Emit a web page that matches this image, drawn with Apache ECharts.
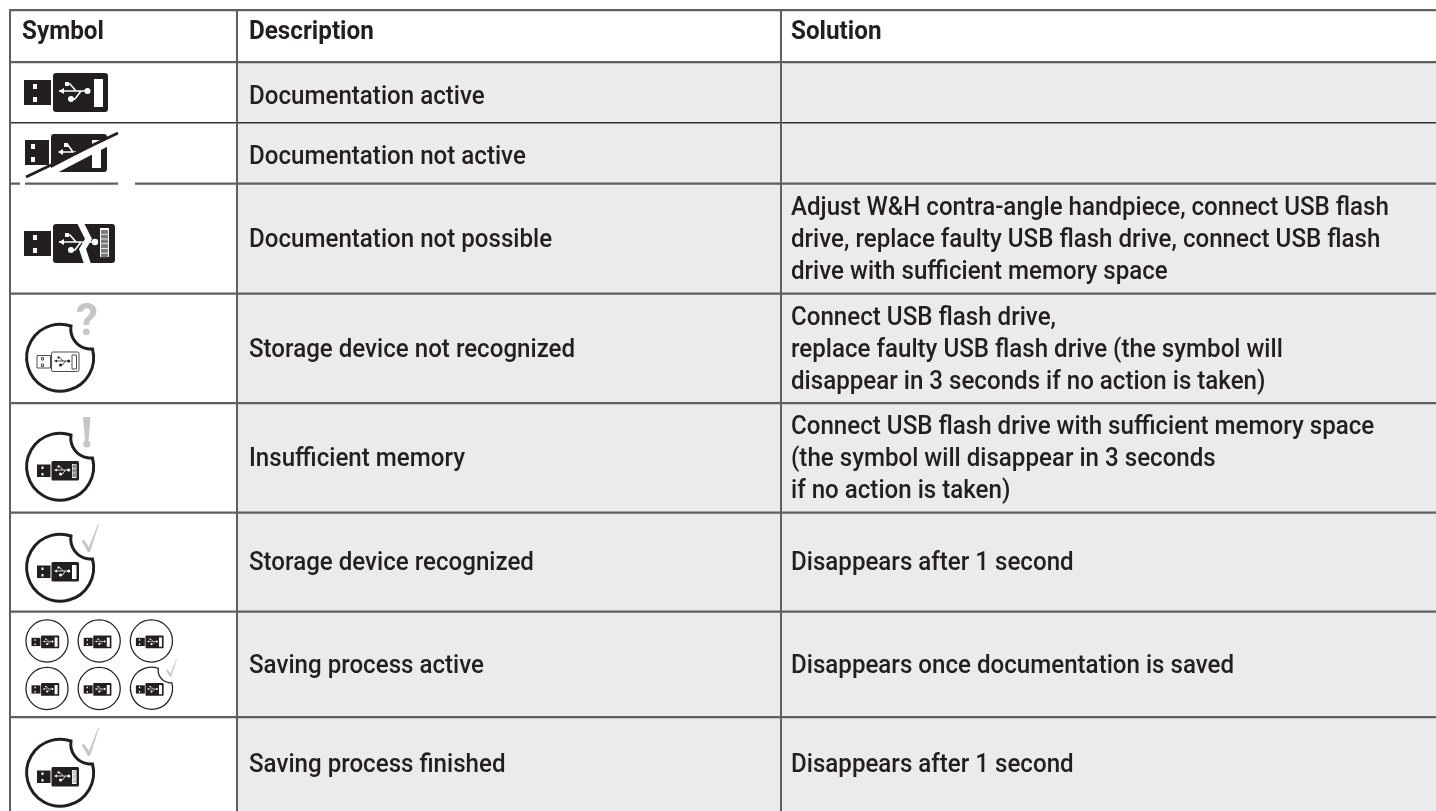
<!DOCTYPE html>
<html>
<head>
<meta charset="utf-8">
<title>Symbol table</title>
<style>
  html, body { margin: 0; padding: 0; background: #fff; }
  #main { width: 1436px; height: 811px; }
</style>
<script src="https://cdn.jsdelivr.net/npm/echarts@6/dist/echarts.min.js"></script>
</head>
<body>
<div id="main"></div>
<script>
const headers = ['Symbol', 'Description', 'Solution']

const symbols = [
  'active', 'inactive', 'broken', 'unknown',
  'memory', 'recognized', 'saving', 'finished'
]

const descriptions = [
  'Documentation active',
  'Documentation not active',
  'Documentation not possible',
  'Storage device not recognized',
  'Insufficient memory',
  'Storage device recognized',
  'Saving process active',
  'Saving process finished'
]

const solutions = [
  '',
  '',
  'Adjust W&H contra-angle handpiece, connect USB flash\ndrive, replace faulty USB flash drive, connect USB flash\ndrive with sufficient memory space',
  'Connect USB flash drive,\nreplace faulty USB flash drive (the symbol will\ndisappear in 3 seconds if no action is taken)',
  'Connect USB flash drive with sufficient memory space\n(the symbol will disappear in 3 seconds\nif no action is taken)',
  'Disappears after 1 second',
  'Disappears once documentation is saved',
  'Disappears after 1 second'
]

// table layout, same units as the page
const colEdges = [10, 237, 781, 1436]
const rowEdges = [10, 62, 123, 183.5, 293.5, 403, 512.5, 611.5, 717, 811]
const textNudge = [-3, 5, 4, 2, 2, 2, 2, 2, 2]
const iconTops = [73, 134, 224, 323, 432, 533, 619, 738]
const fontFamily = 'Roboto, sans-serif'

const black = '#231f20'
const lineGrey = '#5f5f5f'
const markGrey = '#c5c6c8'
const cellGrey = '#ebebed'

const rect = (x, y, width, height, fill, r) => ({
  type: 'rect', shape: { x, y, width, height, r: r || 0 }, style: { fill }
})
const circle = (cx, cy, r, fill) => ({ type: 'circle', shape: { cx, cy, r }, style: { fill } })
const path = (pathData, style) => ({ type: 'path', shape: { pathData }, style })
const poly = (points, fill) => ({ type: 'polygon', shape: { points }, style: { fill } })

// usb stick drawn in a 84x39 box, opts: outline, bars, barFill
function usb(x, y, s, opts) {
  opts = opts || {}
  const fg = opts.outline ? '#fff' : black
  const ink = opts.outline ? black : '#fff'
  const stroke = opts.outline ? { stroke: black, lineWidth: 1.6 } : {}
  const box = (o) => Object.assign(o, { style: Object.assign(o.style, stroke) })
  const children = [
    box(rect(0, 7, 27, 25, fg)),
    box(rect(9, 11, 4, 5, '#fff')),
    box(rect(9, 24, 4, 5, '#fff')),
    box(rect(29, 0, 55, 39, fg, 3)),
    box(rect(70, 6, 9, 28, '#fff'))
  ]
  if (opts.bars) {
    const h = 26 / opts.bars
    for (let i = 0; i < opts.bars; i++) {
      children.push(rect(71, 7 + i * h, 7, h - 1, opts.barFill))
    }
  }
  children.push(path('M35 18H63M43 11H46L52 18M47 26H51L57 18', {
    fill: 'none', stroke: ink, lineWidth: 1.6
  }))
  children.push(poly([[35, 18], [40, 15], [40, 21]], ink))
  children.push(circle(63.5, 18, 3, ink))
  children.push(rect(41, 9, 4, 4, ink))
  children.push(circle(47, 26, 3, ink))
  return { type: 'group', x, y, scaleX: s, scaleY: s, children }
}

// crossed out stick of the second row
function crossedUsb(x, y) {
  return {
    type: 'group', x, y,
    children: [
      rect(1, 6, 24, 25, black),
      rect(7, 10, 4, 5, '#fff'),
      rect(7, 23, 4, 5, '#fff'),
      rect(27, 0, 56, 38, black, 3),
      rect(68, 6, 9, 28, '#fff'),
      path('M35 18H52M41 11H44L49 18', { fill: 'none', stroke: '#fff', lineWidth: 1.6 }),
      poly([[34, 18], [39, 15], [39, 21]], '#fff'),
      rect(40, 9, 4, 4, '#fff'),
      poly([[27, 34], [98, -3], [98, 5], [27, 42]], '#fff'),
      path('M2 43L94 -1', { fill: 'none', stroke: black, lineWidth: 3 })
    ]
  }
}

// stick with the zigzag tear of the third row
function brokenUsb(x, y) {
  const tear = [[53, -1], [60, -1], [68, 15], [62, 25], [67, 40], [60, 40], [55, 25], [61, 15]]
  const ink = '#fff'
  const bars = []
  for (let i = 0; i < 6; i++) bars.push(rect(77, 6 + i * 4.7, 7, 3.9, '#7b7b7b'))
  return {
    type: 'group', x, y,
    children: [
      rect(0, 7, 27, 25, black),
      rect(9, 11, 4, 5, '#fff'),
      rect(9, 24, 4, 5, '#fff'),
      rect(29, 0, 62, 39, black, 3),
      rect(76, 4, 9, 29, '#fff')
    ].concat(bars, [
      path('M35 18H74M43 11H46L52 18M47 26H51L57 18', { fill: 'none', stroke: ink, lineWidth: 1.6 }),
      poly([[35, 18], [40, 15], [40, 21]], ink),
      rect(41, 9, 4, 4, ink),
      circle(47, 26, 3, ink),
      circle(71, 18, 3.2, ink),
      poly(tear, '#fff')
    ])
  }
}

// round frame, 70x70 box. bite cuts the top right corner away
function frame(x, y, s, bite, lineWidth) {
  const d = bite
    ? 'M67.5 26A33.5 33.5 0 1 1 46 3A20 20 0 0 0 67.5 26Z'
    : 'M68.5 35A33.5 33.5 0 1 1 1.5 35A33.5 33.5 0 1 1 68.5 35Z'
  return {
    type: 'group', x, y, scaleX: s, scaleY: s,
    children: [path(d, { fill: '#fff', stroke: black, lineWidth })]
  }
}

function checkMark(x, y, s) {
  return {
    type: 'group', x, y, scaleX: s, scaleY: s,
    children: [poly([[0, 17], [2.5, 16], [7.5, 23], [16.5, 0], [17.5, 0], [8.5, 28], [6.5, 28]], markGrey)]
  }
}

function drawSymbol(kind, top) {
  if (kind === 'active') return [usb(24, top, 1)]
  if (kind === 'inactive') return [crossedUsb(24, top)]
  if (kind === 'broken') return [brokenUsb(24, top)]
  if (kind === 'unknown') {
    return [
      frame(25, top, 1, true, 3),
      usb(37, top + 29, 0.5, { outline: true }),
      {
        type: 'text', x: 87, y: top - 21,
        style: { text: '?', fill: markGrey, font: 'bold 44px ' + fontFamily, align: 'center', verticalAlign: 'top' }
      }
    ]
  }
  if (kind === 'memory') {
    return [
      frame(25, top, 1, true, 3),
      usb(37, top + 29, 0.5, { bars: 3, barFill: '#8a8a8a' }),
      path('M83 ' + (top - 15) + 'H90.5L88.5 ' + (top + 9) + 'H85Z', { fill: markGrey }),
      circle(86.8, top + 12, 3.6, markGrey)
    ]
  }
  if (kind === 'recognized') {
    return [frame(25, top, 1, true, 3), usb(37, top + 29, 0.5), checkMark(81.5, top - 9, 1)]
  }
  if (kind === 'finished') {
    return [
      frame(25, top, 1, true, 3),
      usb(37, top + 29, 0.5, { bars: 3, barFill: '#c9c9c9' }),
      checkMark(81.5, top - 10, 1)
    ]
  }
  // saving: two rows of three small frames
  const out = []
  const s = 44 / 70
  ;[0, 47.5].forEach((dy, r) => {
    [0, 52.2, 104.4].forEach((dx, c) => {
      const last = r === 1 && c === 2
      out.push(frame(25 + dx, top + dy, s, last, 2))
      out.push(usb(31.5 + dx, top + dy + 16.5, 0.33))
      if (last) out.push(checkMark(25 + dx + 36.5, top + dy - 7, 0.62))
    })
  })
  return out
}

const renderCells = (params, api) => {
  const row = api.value(0)
  const top = api.coord([0, rowEdges[row]])[1]
  const bottom = api.coord([0, rowEdges[row + 1]])[1]
  const mid = (top + bottom) / 2
  const left = api.coord([colEdges[1], 0])[0]
  const right = api.coord([colEdges[3], 0])[0]
  const isHeader = row === 0
  const children = []

  if (!isHeader) {
    children.push(rect(left, top, right - left, bottom - top, cellGrey))
    drawSymbol(symbols[row - 1], iconTops[row - 1]).forEach((el) => children.push(el))
  }

  const texts = isHeader ? headers : [null, descriptions[row - 1], solutions[row - 1]]
  texts.forEach((text, col) => {
    if (!text) return
    children.push({
      type: 'text',
      x: api.coord([colEdges[col] + (col === 2 ? 10 : 12), 0])[0],
      y: mid + textNudge[row],
      scaleX: isHeader ? 0.97 : 0.965,
      style: {
        text,
        fill: black,
        font: (isHeader ? 'bold ' : '500 ') + '25px ' + fontFamily,
        lineHeight: 32,
        align: 'left',
        verticalAlign: 'middle'
      }
    })
  })
  return { type: 'group', children }
}

const renderLines = (params, api) => {
  const children = []
  rowEdges.slice(0, -1).forEach((y, i) => {
    const p = api.coord([colEdges[0], y])
    const q = api.coord([colEdges[3], y])
    children.push(rect(p[0] - 1, p[1] - 1, q[0] - p[0] + 1, i === 2 ? 1.6 : 2.2, i === 2 ? '#333' : lineGrey))
  })
  colEdges.slice(0, -1).forEach((x) => {
    const p = api.coord([x, rowEdges[0]])
    const q = api.coord([x, rowEdges[rowEdges.length - 1]])
    children.push(rect(p[0] - 1, p[1] - 1, 2, q[1] - p[1] + 1, lineGrey))
  })
  // small gaps in the rule under the crossed out symbol
  children.push(rect(20, 182, 5, 3, '#fff'))
  children.push(rect(118, 182, 17, 3, '#fff'))
  return { type: 'group', children }
}

const chart = echarts.init(document.getElementById('main'), null, { renderer: 'canvas' })

chart.setOption({
  animation: false,
  backgroundColor: '#fff',
  grid: { left: 0, right: 0, top: 0, bottom: 0 },
  xAxis: { type: 'value', min: 0, max: 1436, show: false },
  yAxis: { type: 'value', min: 0, max: 811, inverse: true, show: false },
  series: [
    {
      type: 'custom',
      clip: false,
      silent: true,
      renderItem: renderCells,
      data: rowEdges.slice(0, -1).map((_, i) => [i])
    },
    {
      type: 'custom',
      clip: false,
      silent: true,
      renderItem: renderLines,
      data: [[0]]
    }
  ]
})
</script>
</body>
</html>
